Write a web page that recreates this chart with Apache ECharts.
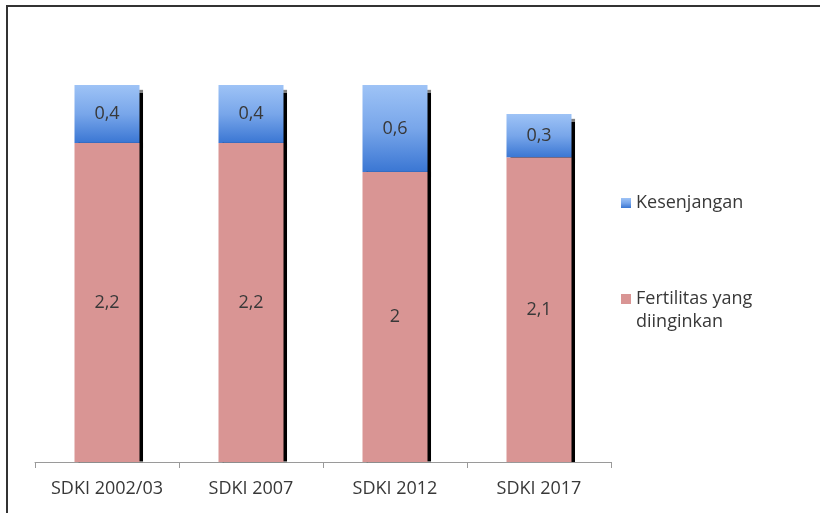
<!DOCTYPE html>
<html>
<head>
<meta charset="utf-8">
<script src="https://cdn.jsdelivr.net/npm/echarts@6/dist/echarts.min.js"></script>
<style>
html,body{margin:0;padding:0;background:#fff;}
#c{width:820px;height:513px;}
</style>
</head>
<body>
<div id="c"></div>
<script>
var categories = ['SDKI 2002/03', 'SDKI 2007', 'SDKI 2012', 'SDKI 2017'];
var desired = [2.2, 2.2, 2, 2.1];
var gap = [0.4, 0.4, 0.6, 0.3];
var seriesNames = ['Fertilitas yang diinginkan', 'Kesenjangan'];

var FONT = '"Open Sans", "Liberation Sans", sans-serif';
var TXT = '#383838';
function fmt(p) { return String(p.value).replace('.', ','); }

var chart = echarts.init(document.getElementById('c'), null, {renderer: 'canvas'});
chart.setOption({
  animation: false,
  backgroundColor: '#ffffff',
  grid: {left: 35, width: 576, top: 27, bottom: 51, containLabel: false},
  xAxis: {
    type: 'category',
    data: categories,
    axisLine: {lineStyle: {color: '#9a9a9a', width: 1}},
    axisTick: {show: true, interval: 0, length: 6, lineStyle: {color: '#9a9a9a'}},
    axisLabel: {interval: 0, color: TXT, fontFamily: FONT, fontSize: 18, margin: 18}
  },
  yAxis: {type: 'value', min: 0, max: 3, show: false, splitLine: {show: false}},
  legend: [
    {
      data: [seriesNames[1]], orient: 'vertical', left: 621, top: 193, padding: 0,
      itemWidth: 10, itemHeight: 10, icon: 'rect',
      textStyle: {color: TXT, fontFamily: FONT, fontSize: 18, lineHeight: 20}
    },
    {
      data: [seriesNames[0]], orient: 'vertical', left: 621, top: 289, padding: 0,
      itemWidth: 10, itemHeight: 10, icon: 'rect',
      formatter: function () { return 'Fertilitas yang'; },
      textStyle: {color: TXT, fontFamily: FONT, fontSize: 18, lineHeight: 20}
    }
  ],
  graphic: [
    {type: 'line', shape: {x1: 6, y1: 6, x2: 820, y2: 6}, style: {stroke: '#333', lineWidth: 2}, silent: true},
    {type: 'line', shape: {x1: 7, y1: 5, x2: 7, y2: 513}, style: {stroke: '#333', lineWidth: 2}, silent: true},
    {type: 'text', left: 636, top: 313, style: {text: 'diinginkan', fill: TXT, font: '18px ' + FONT}, silent: true}
  ],
  series: [
    {
      name: seriesNames[0], type: 'bar', stack: 'tot', data: desired, barWidth: 65, z: 3,
      itemStyle: {color: '#D99594', shadowColor: '#000', shadowBlur: 1, shadowOffsetX: 3, shadowOffsetY: 0},
      label: {show: true, position: 'inside', formatter: fmt, color: TXT, fontFamily: FONT, fontSize: 18}
    },
    {
      name: seriesNames[1], type: 'bar', stack: 'tot', data: gap, barWidth: 65, z: 2,
      itemStyle: {
        color: new echarts.graphic.LinearGradient(0, 0, 0, 1, [
          {offset: 0, color: '#9EC3F6'},
          {offset: 0.5, color: '#78A6EA'},
          {offset: 1, color: '#3A76D3'}
        ]),
        shadowColor: '#000', shadowBlur: 1, shadowOffsetX: 3, shadowOffsetY: 5
      },
      label: {show: true, position: 'inside', formatter: fmt, color: TXT, fontFamily: FONT, fontSize: 18}
    }
  ]
});
</script>
</body>
</html>
